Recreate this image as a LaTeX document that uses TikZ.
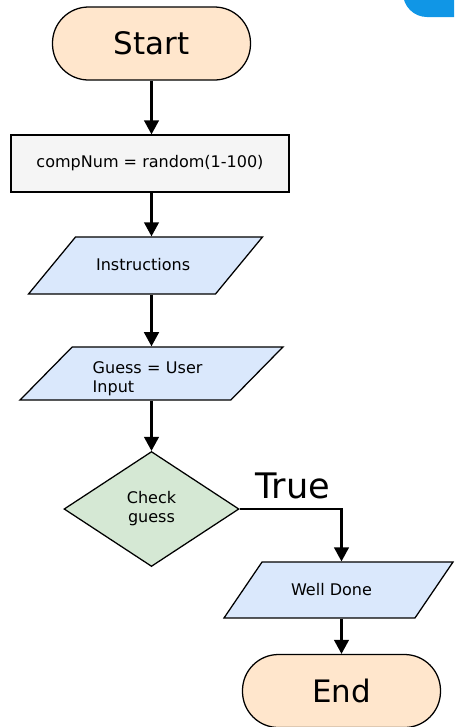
\documentclass[tikz,border=0pt]{standalone}
\usepackage{fontspec}
\setmainfont{DejaVu Sans}
\usetikzlibrary{shapes.geometric, arrows.meta}
\definecolor{termfill}{RGB}{255,230,204}
\definecolor{iofill}{RGB}{218,232,252}
\definecolor{procfill}{RGB}{245,245,245}
\definecolor{decfill}{RGB}{213,232,212}
\definecolor{cornerblue}{RGB}{16,150,230}

\begin{document}
\begin{tikzpicture}[x=0.25mm, y=0.25mm, >={Triangle[width=10.5pt,length=10pt]},
		font=\fontsize{11.4}{13.5}\selectfont,
		term/.style={draw, fill=termfill, line width=0.9pt, rounded corners=9mm,
			minimum width=49.5mm, minimum height=18.25mm, font=\fontsize{22}{26}\selectfont},
		proc/.style={draw, fill=procfill, line width=0.9pt, minimum width=69.5mm, minimum height=14.25mm},
		inout/.style={draw, fill=iofill, line width=0.9pt, trapezium, trapezium stretches body, inner ysep=0pt},
		decide/.style={draw, fill=decfill, line width=0.9pt, diamond, inner sep=0pt,
			minimum width=43.75mm, minimum height=28.75mm, align=center},
		flow/.style={->, line width=1.5pt}]
				%Bildbereich
				\useasboundingbox (0,0) rectangle (454,-727);
				% Ecke oben rechts
				\begin{scope}
					\clip (0,0) rectangle (454,-727);
					\fill[cornerblue, rounded corners=6mm] (403,40) rectangle (500,-17);
				\end{scope}
				% Knoten
				\node[term] (start) at (151.5,-43.5) {Start};
				\node[proc] (init) at (150,-163.5) {compNum = random(1-100)};
				\node[inout, trapezium left angle=50.5, trapezium right angle=129.5,
					minimum width=58.5mm, text height=24.1pt, text depth=16.5pt] (instr) at (145.5,-265.5) {Instructions\hspace*{1.2mm}};
				\node[inout, trapezium left angle=45.5, trapezium right angle=134.5,
					minimum width=65.75mm, text height=18.9pt, text depth=18.9pt,
					text width=29.4mm, align=left] (guess) at (151.5,-373.5) {Guess = User Input};
				\node[decide] (check) at (151.5,-509) {Check\\guess};
				\node[inout, trapezium left angle=55.8, trapezium right angle=124.2,
					minimum width=57.25mm, text height=23.7pt, text depth=16.1pt] (well) at (338.5,-590) {Well Done\hspace*{3.5mm}};
				\node[term] (end) at (341.5,-691) {End};
				% Verbindungen
				\draw[flow] (start.south) -- (start.south |- init.north);
				\draw[flow] (start.south |- init.south) -- (start.south |- instr.north);
				\draw[flow] (start.south |- instr.south) -- (start.south |- guess.north);
				\draw[flow] (check.north |- guess.south) -- (check.north);
				\draw[flow] (check.east) -| (end.north |- well.north)
					node[pos=0.26, above=6.5pt, inner sep=0pt, font=\fontsize{25}{30}\selectfont] (truelbl) {True};
				\draw[flow] (well.south -| end.north) -- (end.north);
		\end{tikzpicture}
\end{document}
